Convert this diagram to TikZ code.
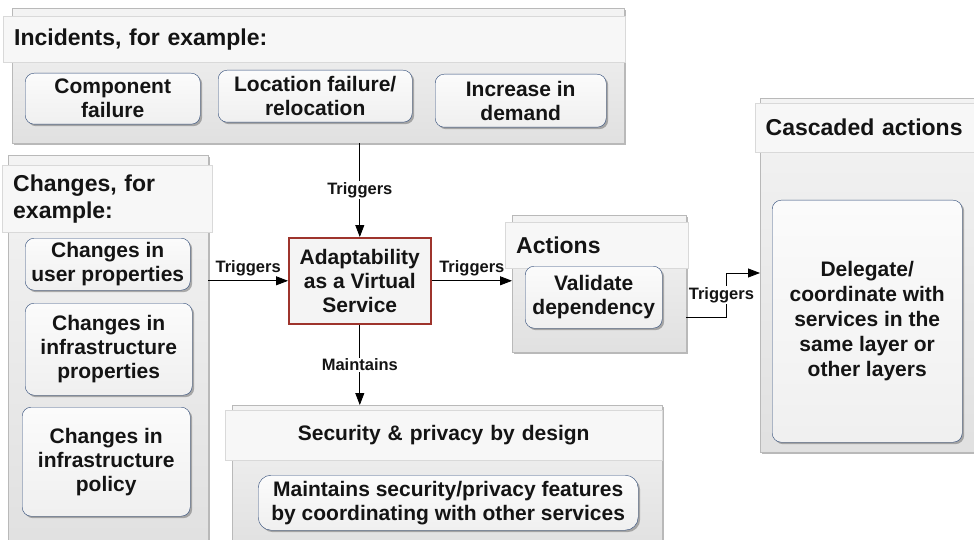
\documentclass[tikz,border=0pt]{standalone}
\usepackage{fontspec}
\setmainfont{Liberation Sans}
\usetikzlibrary{arrows.meta,shadows}
\definecolor{itemblue}{RGB}{44,72,118}
\definecolor{corered}{RGB}{158,52,44}
\tikzset{
  panel/.style={anchor=north west, draw=gray!55, top color=gray!9, bottom color=gray!24,
    drop shadow={shadow xshift=2pt, shadow yshift=-2pt, fill=black!55}},
  headbar/.style={anchor=north west, draw=gray!30, fill=gray!6, inner xsep=11pt, align=left,
    font=\bfseries\fontsize{23}{27}\selectfont, text=black!92},
  item/.style={anchor=north west, draw=itemblue, rounded corners=9pt, top color=gray!3, bottom color=gray!12,
    drop shadow={shadow xshift=2pt, shadow yshift=-2pt, fill=black!60}, align=center, inner sep=2pt,
    font=\bfseries\fontsize{21}{24}\selectfont, text=black!92},
  core/.style={anchor=north west, draw=corered, line width=1.6pt, fill=gray!9, align=center, inner sep=2pt,
    font=\bfseries\fontsize{21}{24}\selectfont, text=black!92},
  flow/.style={-{Triangle[length=12pt,width=9pt]}, line width=0.8pt},
  lbl/.style={font=\bfseries\fontsize{16.5}{19}\selectfont, text=black!92, inner sep=1pt}
}
\begin{document}
\begin{tikzpicture}[x=1pt, y=-1pt]
  \useasboundingbox (0,0) rectangle (974,540);

  % incidents
  \node[panel, minimum width=612pt, minimum height=135pt] (incidents) at (12,8) {};
  \node[headbar, minimum width=622pt, minimum height=46pt, text width=600pt] (incidentshead) at (3,16) {Incidents, for example:};
  \node[item, minimum width=175pt, minimum height=51pt] (component) at (25,73) {Component\\failure};
  \node[item, minimum width=194pt, minimum height=52pt] (location) at (218,70) {Location failure/\\relocation};
  \node[item, minimum width=171pt, minimum height=53pt] (demand) at (435,74) {Increase in\\demand};

  % changes
  \node[panel, minimum width=200pt, minimum height=395pt] (changes) at (8,155) {};
  \node[headbar, minimum width=210pt, minimum height=67pt, text width=188pt] (changeshead) at (2,165) {Changes, for\\example:};
  \node[item, minimum width=165pt, minimum height=52pt] (userprops) at (25,238) {Changes in\\user properties};
  \node[item, minimum width=167pt, minimum height=92pt] (infraprops) at (25,303) {Changes in\\infrastructure\\properties};
  \node[item, minimum width=168pt, minimum height=109pt] (infrapolicy) at (22,407) {Changes in\\infrastructure\\policy};

  \node[core, minimum width=142pt, minimum height=86pt] (adapt) at (288,237) {Adaptability\\as a Virtual\\Service};

  % actions
  \node[panel, minimum width=174pt, minimum height=137pt] (actions) at (512,215) {};
  \node[headbar, minimum width=183pt, minimum height=46pt, text width=161pt] (actionshead) at (505,222) {Actions};
  \node[item, minimum width=137pt, minimum height=62pt] (validate) at (525,266) {Validate\\dependency};

  % cascaded
  \node[panel, minimum width=225pt, minimum height=354pt] (cascaded) at (760,98) {};
  \node[headbar, minimum width=230pt, minimum height=49pt, text width=209pt, inner xsep=10pt] (cascadedhead) at (755,103) {Cascaded actions};
  \node[item, minimum width=190pt, minimum height=242pt, font=\bfseries\fontsize{21}{25}\selectfont] (delegate) at (772,200)
    {Delegate/\\coordinate with\\services in the\\same layer or\\other layers};

  % security
  \node[panel, minimum width=430pt, minimum height=145pt] (security) at (232,405) {};
  \node[headbar, minimum width=437pt, minimum height=50pt, text width=415pt, align=center,
    font=\bfseries\fontsize{21}{24}\selectfont] (securityhead) at (225,410) {Security \& privacy by design};
  \node[item, minimum width=380pt, minimum height=55pt, rounded corners=13pt] (maintains) at (258,475)
    {Maintains security/privacy features\\by coordinating with other services};

  \draw[flow] (incidents.south -| adapt.north) -- node[lbl, fill=white] {Triggers} (adapt.north);
  \draw[flow] (changes.east |- adapt.west) -- node[lbl, above=3pt] {Triggers} (adapt.west);
  \draw[flow] (adapt.east) -- node[lbl, above=3pt] {Triggers} (actions.west |- adapt.east);
  \draw[flow] (adapt.south) -- node[lbl, fill=white] {Maintains} (security.north -| adapt.south);

  \coordinate (validateout) at (actions.east |- 0,317);
  \coordinate (cascadedin) at (cascaded.west |- 0,273);
  \draw[flow] (validateout) -- ++(40,0) |- node[lbl, fill=white, pos=0.25, xshift=-5pt] {Triggers} (cascadedin);
\end{tikzpicture}
\end{document}
